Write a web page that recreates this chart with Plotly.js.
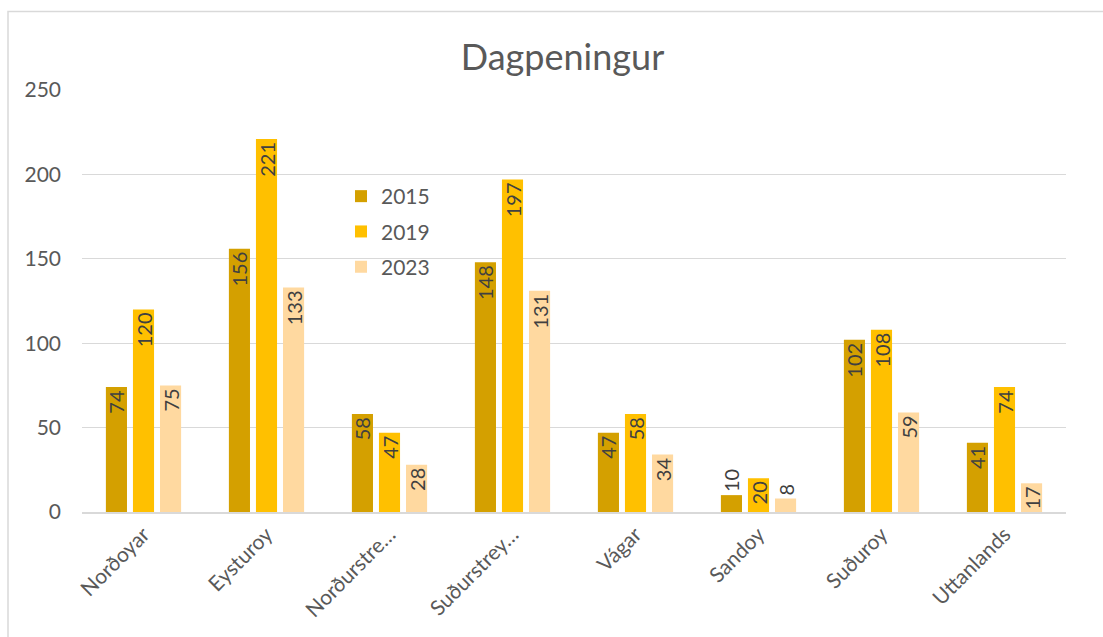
<!DOCTYPE html>
<html>
<head>
<meta charset="utf-8">
<script src="https://cdn.plot.ly/plotly-3.0.1.min.js"></script>
<style>html,body{margin:0;padding:0;background:#fff;}#chart{width:1103px;height:637px;}</style>
</head>
<body>
<div id="chart"></div>
<script>
const categories = ["Norðoyar", "Eysturoy", "Norðurstreymoy", "Suðurstreymoy", "Vágar", "Sandoy", "Suðuroy", "Uttanlands"];
const tickLabels = ["Norðoyar", "Eysturoy", "Norðurstre…", "Suðurstrey…", "Vágar", "Sandoy", "Suðuroy", "Uttanlands"];
const seriesNames = ["2015", "2019", "2023"];
const values2015 = [74, 156, 58, 148, 47, 10, 102, 41];
const values2019 = [120, 221, 47, 197, 58, 20, 108, 74];
const values2023 = [75, 133, 28, 131, 34, 8, 59, 17];
const yTicks = [0, 50, 100, 150, 200, 250];

const colors = ["#D4A000", "#FFC000", "#FFD9A0"];
const allValues = [values2015, values2019, values2023];
const fontFam = "Lato, 'Open Sans', 'Liberation Sans', sans-serif";

const traces = allValues.map((vals, i) => ({
  type: "bar",
  name: seriesNames[i],
  legendgroup: "g" + i,
  x: categories,
  y: vals,
  text: vals.map(String),
  textposition: "auto",
  insidetextanchor: "end",
  textangle: -90,
  constraintext: "none",
  textfont: {family: fontFam, size: 20, color: "#404040"},
  marker: {color: colors[i]},
  hoverinfo: "x+y+name",
  cliponaxis: false
}));

const L = 82, R = 1066, T = 90, B = 512, W = 1103, H = 637;
const pw = R - L, ph = B - T;
const px = v => (v - L) / pw;
const py = v => (B - v) / ph;

const layout = {
  width: W, height: H,
  margin: {l: L, r: W - R, t: T, b: H - B, pad: 0},
  paper_bgcolor: "#ffffff",
  plot_bgcolor: "#ffffff",
  barmode: "group",
  bargap: 0.34,
  bargroupgap: 0.22,
  title: {
    text: "Dagpeningur",
    font: {family: fontFam, size: 36, color: "#595959"},
    x: 0.51, xanchor: "center",
    y: 1 - 57 / H, yanchor: "middle"
  },
  xaxis: {
    type: "category",
    tickvals: categories,
    ticktext: tickLabels,
    tickangle: -45,
    tickfont: {family: fontFam, size: 21, color: "#595959"},
    showline: true, linecolor: "#D9D9D9", linewidth: 2,
    ticks: "", showgrid: false, zeroline: false,
    fixedrange: true
  },
  yaxis: {
    range: [0, 250],
    tickvals: yTicks,
    tickfont: {family: fontFam, size: 21, color: "#595959"},
    showgrid: true, gridcolor: "#D9D9D9", gridwidth: 1.3,
    zeroline: false, showline: false, ticks: "",
    ticklabelstandoff: 20,
    fixedrange: true
  },
  showlegend: true,
  legend: {
    x: px(341), y: py(176), xanchor: "left", yanchor: "top",
    orientation: "v",
    font: {family: fontFam, size: 21, color: "#595959"},
    tracegroupgap: 5,
    bgcolor: "rgba(0,0,0,0)",
    itemwidth: 30
  },
  shapes: [{
    type: "rect", xref: "paper", yref: "paper",
    x0: px(8), x1: px(1115), y0: py(650), y1: py(11.5),
    line: {color: "#D9D9D9", width: 1.5},
    fillcolor: "rgba(0,0,0,0)",
    layer: "below"
  }]
};

Plotly.newPlot("chart", traces, layout, {displayModeBar: false, responsive: false});
</script>
</body>
</html>
